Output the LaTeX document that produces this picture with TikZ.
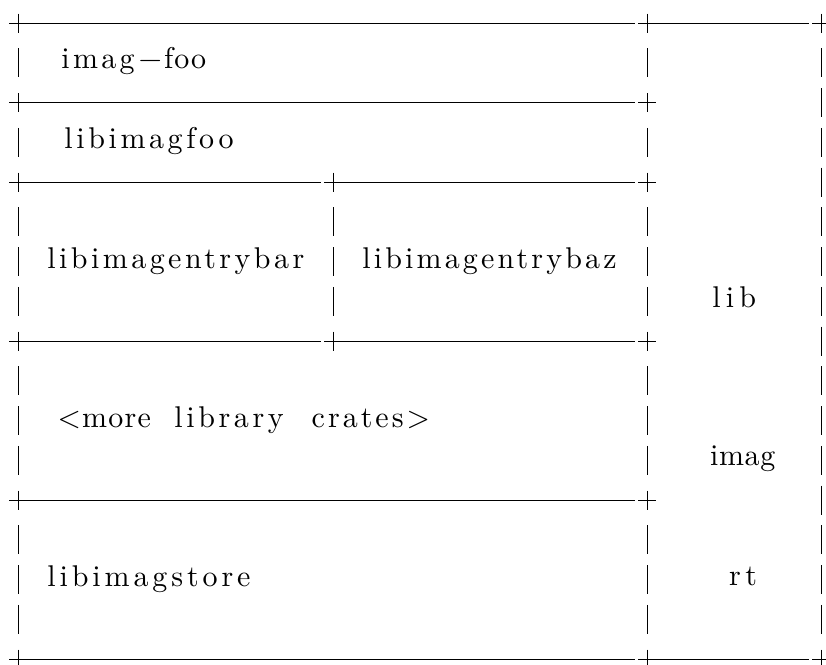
\documentclass[tikz,border=0pt]{standalone}
\usepackage{fontspec}
\setmainfont{lmroman10-regular.otf}
\newcommand{\spaced}[2]{{\addfontfeature{LetterSpace=#1}#2}}
\begin{document}
\begin{tikzpicture}[x=1pt,y=-1pt,
  glyph/.style={line width=1pt, black},
  plusmark/.pic={\draw[glyph] (-9,0) -- (9,0) (0,-9.5) -- (0,9.5);},
  barmark/.pic={\draw[glyph] (0,-14.5) -- (0,14.5);},
  lbl/.style={anchor=base west, inner sep=0pt, font=\fontsize{30}{34}\selectfont}]
\useasboundingbox (0,0) rectangle (826,664);
% plus corners
\foreach \k/\cols in {0/{18,647,821},2/{18,647},4/{18,333,647},8/{18,333,647},12/{18,647},16/{18,647,821}}{
  \foreach \c in \cols { \coordinate (p-\k-\c) at (\c,{23+39.75*\k}); \pic at (p-\k-\c) {plusmark}; }
}
% bars
\foreach \k/\cols in {1/{18,647,821},2/{821},3/{18,647,821},4/{821},5/{18,333,647,821},6/{18,333,647,821},7/{18,333,647,821},8/{821},9/{18,647,821},10/{18,647,821},11/{18,647,821},12/{821},13/{18,647,821},14/{18,647,821},15/{18,647,821}}{
  \foreach \c in \cols { \coordinate (b-\k-\c) at (\c,{23+39.75*\k}); \pic at (b-\k-\c) {barmark}; }
}
% horizontal rules made of dashes
\draw[glyph] (p-0-18) -- ([xshift=-12pt]p-0-647);
\draw[glyph] (p-0-647) -- ([xshift=-12pt]p-0-821);
\draw[glyph] (p-2-18) -- ([xshift=-12pt]p-2-647);
\draw[glyph] (p-4-18) -- ([xshift=-12pt]p-4-333);
\draw[glyph] (p-4-333) -- ([xshift=-12pt]p-4-647);
\draw[glyph] (p-8-18) -- ([xshift=-12pt]p-8-333);
\draw[glyph] (p-8-333) -- ([xshift=-12pt]p-8-647);
\draw[glyph] (p-12-18) -- ([xshift=-12pt]p-12-647);
\draw[glyph] (p-16-18) -- ([xshift=-12pt]p-16-647);
\draw[glyph] (p-16-647) -- ([xshift=-12pt]p-16-821);
% labels
\node[lbl] (imagfoo) at (61.2,{23+39.75*1+6}) {\rlap{\spaced{11}{imag}}\hspace*{77.3pt}\rlap{−}\hspace*{25.5pt}\spaced{3}{foo}};
\node[lbl] (libimagfoo) at (64.2,{23+39.75*3+6.5}) {\spaced{12}{libimagfoo}};
\node[lbl] (bar) at (47.2,{23+39.75*6+6.5}) {\spaced{11.5}{libimagentrybar}};
\node[lbl] (baz) at (362.2,{23+39.75*6+6.5}) {\spaced{10.5}{libimagentrybaz}};
\node[lbl] (lib) at (712.2,{23+39.75*7+6.5}) {\spaced{17}{lib}};
\node[lbl] (more) at (57.5,{23+39.75*10+6.5}) {\rlap{\spaced{4}{<more}}\hspace*{116.7pt}\rlap{\spaced{12}{library}}\hspace*{137.3pt}\spaced{10}{crates>}};
\node[lbl] (imag) at (710,{23+39.75*11+5.5}) {\spaced{2}{imag}};
\node[lbl] (store) at (47.2,{23+39.75*14+7}) {\spaced{13}{libimagstore}};
\node[lbl] (rt) at (729,{23+39.75*14+6}) {\spaced{15}{rt}};
\end{tikzpicture}
\end{document}
